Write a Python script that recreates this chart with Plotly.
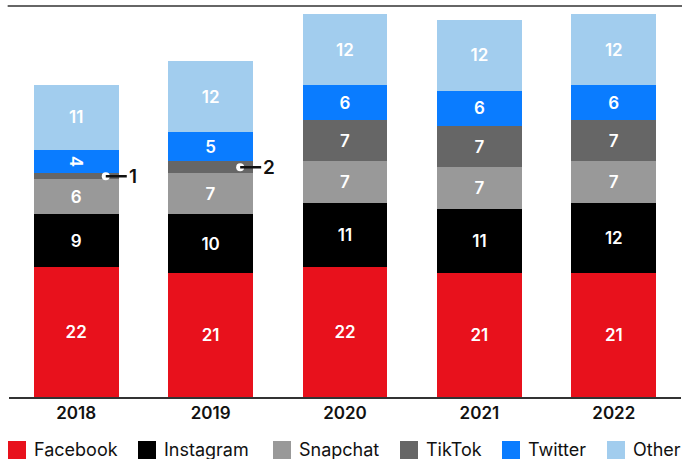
import plotly.graph_objects as go

years = ["2018", "2019", "2020", "2021", "2022"]
facebook = [22, 21, 22, 21, 21]
instagram = [9, 10, 11, 11, 12]
snapchat = [6, 7, 7, 7, 7]
tiktok = [1, 2, 7, 7, 7]
twitter = [4, 5, 6, 6, 6]
other = [11, 12, 12, 12, 12]

series = [
    ("Facebook", facebook, "#E8111C"),
    ("Instagram", instagram, "#000000"),
    ("Snapchat", snapchat, "#999999"),
    ("TikTok", tiktok, "#666666"),
    ("Twitter", twitter, "#0A7CFF"),
    ("Other", other, "#A2CDEE"),
]

FONT = "Inter"
xs = list(range(len(years)))
fig = go.Figure()
for name, vals, color in series:
    fig.add_trace(go.Bar(
        x=xs, y=vals, name=name, marker=dict(color=color, line=dict(width=0)),
        text=[str(v) if v >= 3 else "" for v in vals],
        textposition="inside", insidetextanchor="middle",
        textfont=dict(color="white", size=17, family=FONT, weight=600),
        hoverinfo="skip", showlegend=False,
    ))

# small TikTok callouts
small = [(i, v) for i, v in enumerate(tiktok) if v < 3]
cum_below = [facebook[i] + instagram[i] + snapchat[i] for i in range(len(years))]
dot_x = [i + 0.22 for i, _ in small]
dot_y = [cum_below[i] + v / 2 for i, v in small]
for (i, v), dx, dy in zip(small, dot_x, dot_y):
    fig.add_annotation(x=dx, y=dy, xref="x", yref="y", text=str(v),
                       showarrow=True, arrowhead=0, arrowwidth=2.5, arrowcolor="#111",
                       ax=21, ay=0, standoff=0, startstandoff=0,
                       font=dict(size=19, color="#111", family=FONT, weight=600),
                       xanchor="left")
fig.add_trace(go.Scatter(x=dot_x, y=dot_y, mode="markers", showlegend=False,
                         marker=dict(color="white", size=8, line=dict(width=0)),
                         hoverinfo="skip"))

# top rule
fig.add_shape(type="line", xref="paper", yref="paper", x0=-0.002, x1=1.002, y0=1, y1=1,
              line=dict(color="#333", width=1.5))

# custom legend (pixel layout converted to paper coords)
PLOT_L, PLOT_W, PLOT_B, PLOT_H = 9, 672, 397, 391
legend_x = [8, 138, 273, 400, 502, 607]
for (name, _, color), lx in zip(series, legend_x):
    x0 = (lx - PLOT_L) / PLOT_W
    x1 = (lx + 18 - PLOT_L) / PLOT_W
    y0 = (PLOT_B - 462) / PLOT_H
    y1 = (PLOT_B - 441) / PLOT_H
    fig.add_shape(type="rect", xref="paper", yref="paper", x0=x0, x1=x1, y0=y0, y1=y1,
                  fillcolor=color, line=dict(width=0))
    fig.add_annotation(xref="paper", yref="paper", x=(lx + 24 - PLOT_L) / PLOT_W,
                       y=(PLOT_B - 449.5) / PLOT_H, text=name, showarrow=False,
                       xanchor="left", yanchor="middle",
                       font=dict(size=18, family=FONT, color="#111"))

fig.update_layout(
    barmode="stack", bargap=0.368,
    width=682, height=459,
    margin=dict(l=9, r=1, t=6, b=62),
    plot_bgcolor="white", paper_bgcolor="white",
    font=dict(family=FONT, color="#111"),
    xaxis=dict(tickvals=xs, ticktext=years, range=[-0.5, len(years) - 0.5],
               showline=True, linecolor="#333", linewidth=1.5, showgrid=False,
               ticks="", tickfont=dict(size=17, family=FONT, weight=600, color="#111")),
    yaxis=dict(range=[0, 66.4], showgrid=False, showticklabels=False, zeroline=False,
               ticks=""),
    showlegend=False,
)

fig.write_html("out.html", config={"displayModeBar": False},
               post_script="document.body.style.margin='0';")
